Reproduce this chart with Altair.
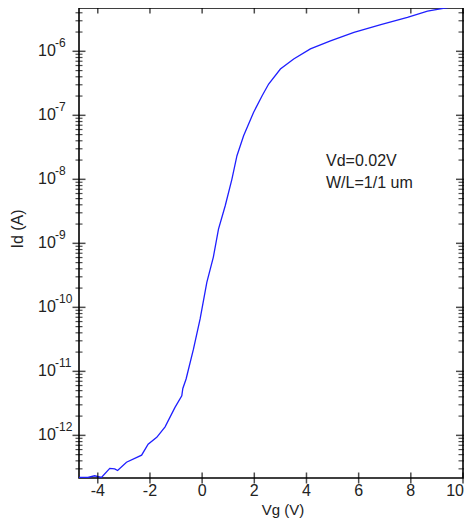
import altair as alt
import pandas as pd

# ---- data ----
vg = [-4.72, -4.38, -4.12, -3.86, -3.54, -3.35, -3.24, -2.90, -2.32, -2.07,
      -1.74, -1.42, -1.04, -0.78, -0.74, -0.615, -0.335, -0.077, 0.18, 0.43,
      0.627, 0.885, 1.14, 1.335, 1.59, 1.97, 2.30, 2.55, 3.0, 3.51,
      4.15, 4.92, 5.82, 6.85, 7.87, 8.64, 9.54, 10.0]
id_a = [2.2e-13, 2.2e-13, 2.34e-13, 2.2e-13, 3.05e-13, 3.0e-13, 2.82e-13, 3.8e-13, 4.9e-13, 7.3e-13,
        9.3e-13, 1.36e-12, 2.74e-12, 4.16e-12, 5.4e-12, 7.6e-12, 2.2e-11, 6.6e-11, 2.46e-10, 6.1e-10,
        1.67e-9, 3.87e-9, 1.0e-8, 2.34e-8, 4.8e-8, 1.11e-7, 2.02e-7, 3.08e-7, 5.28e-7, 7.58e-7,
        1.09e-6, 1.45e-6, 1.98e-6, 2.61e-6, 3.40e-6, 4.26e-6, 4.92e-6, 5.1e-6]

x_ticks = [-4, -2, 0, 2, 4, 6, 8, 10]
x_labels = ["-4", "-2", "0", "2", "4", "6", "8", "10"]
decades = [-12, -11, -10, -9, -8, -7, -6]
exp_labels = ["-12", "-11", "-10", "-9", "-8", "-7", "-6"]
annot = ["Vd=0.02V", "W/L=1/1 um"]

W, H = 384, 470
x_dom = [-4.72, 10]
y_dom = [10 ** -12.666, 10 ** -5.3234]
FONT = "Arial, Liberation Sans, sans-serif"
TXT = "#222222"

curve = pd.DataFrame({"x": vg, "y": id_a})
major = pd.DataFrame({"y": [10.0 ** d for d in decades], "e": exp_labels})
minor_vals = []
for d in range(-13, -5):
    for k in range(2, 10):
        v = k * 10.0 ** d
        if y_dom[0] <= v <= y_dom[1]:
            minor_vals.append(v)
minor = pd.DataFrame({"y": minor_vals})
xt = pd.DataFrame({"x": x_ticks, "lab": x_labels})
ann = pd.DataFrame({"t": annot, "py": [153, 174.5]})
one = pd.DataFrame({"a": [0]})

xsc = alt.Scale(domain=x_dom, nice=False, zero=False)
ysc = alt.Scale(type="log", domain=y_dom, nice=False)
X = alt.X("x:Q", scale=xsc, axis=None)
Y = alt.Y("y:Q", scale=ysc, axis=None)

line = alt.Chart(curve).mark_line(color="#1f1fff", strokeWidth=1.3, clip=True).encode(x=X, y=Y)

lmaj = alt.Chart(major).mark_tick(color="#000000", thickness=1.5, size=13, orient="horizontal").encode(
    y=Y, x=alt.value(0))
rmaj = alt.Chart(major).mark_tick(color="#000000", thickness=1.5, size=14, orient="horizontal").encode(
    y=Y, x=alt.value(W))
lmin = alt.Chart(minor).mark_tick(color="#000000", thickness=1.2, size=7, orient="horizontal").encode(
    y=Y, x=alt.value(0))
rmin = alt.Chart(minor).mark_tick(color="#000000", thickness=1.2, size=9, orient="horizontal").encode(
    y=Y, x=alt.value(W))
bt = alt.Chart(xt).mark_tick(color="#000000", thickness=1.5, size=11, orient="vertical").encode(
    x=X, y=alt.value(H))
tt = alt.Chart(xt).mark_tick(color="#000000", thickness=1.5, size=11, orient="vertical").encode(
    x=X, y=alt.value(0))

xlab = alt.Chart(xt).transform_filter("datum.x < 10").mark_text(
    font=FONT, fontSize=16, color=TXT, baseline="middle").encode(
    x=X, y=alt.value(H + 13), text="lab:N")
xlab_end = alt.Chart(xt).transform_filter("datum.x == 10").mark_text(
    font=FONT, fontSize=16, color=TXT, baseline="middle", align="right", dx=1).encode(
    x=X, y=alt.value(H + 13), text="lab:N")
ten = alt.Chart(major).mark_text(font=FONT, fontSize=16, color=TXT, align="left",
                                 baseline="middle").encode(
    y=Y, x=alt.value(-41), text=alt.value("10"))
expo = alt.Chart(major).mark_text(font=FONT, fontSize=12, color=TXT, align="left",
                                  baseline="middle", dy=-8).encode(
    y=Y, x=alt.value(-24), text="e:N")

xtitle = alt.Chart(one).mark_text(font=FONT, fontSize=15, color=TXT, baseline="middle").encode(
    x=alt.value(204), y=alt.value(502), text=alt.value("Vg (V)"))
ytitle = alt.Chart(one).mark_text(font=FONT, fontSize=16, color=TXT, baseline="middle",
                                  angle=270).encode(
    x=alt.value(-61.5), y=alt.value(221), text=alt.value("Id (A)"))
annot_t = alt.Chart(ann).mark_text(font=FONT, fontSize=16, color=TXT, align="left",
                                   baseline="middle").encode(
    x=alt.value(247), y=alt.Y("py:Q", scale=None), text="t:N")

chart = alt.layer(line, lmaj, rmaj, lmin, rmin, bt, tt, xlab, xlab_end, ten, expo,
                  xtitle, ytitle, annot_t).properties(
    width=W, height=H,
    autosize="none",
    padding={"left": 71, "top": 0, "right": 1, "bottom": 40},
    background="white",
).configure_view(stroke="black", strokeWidth=1.6)

chart.save("out.html", embed_options={"renderer": "svg", "actions": False})
